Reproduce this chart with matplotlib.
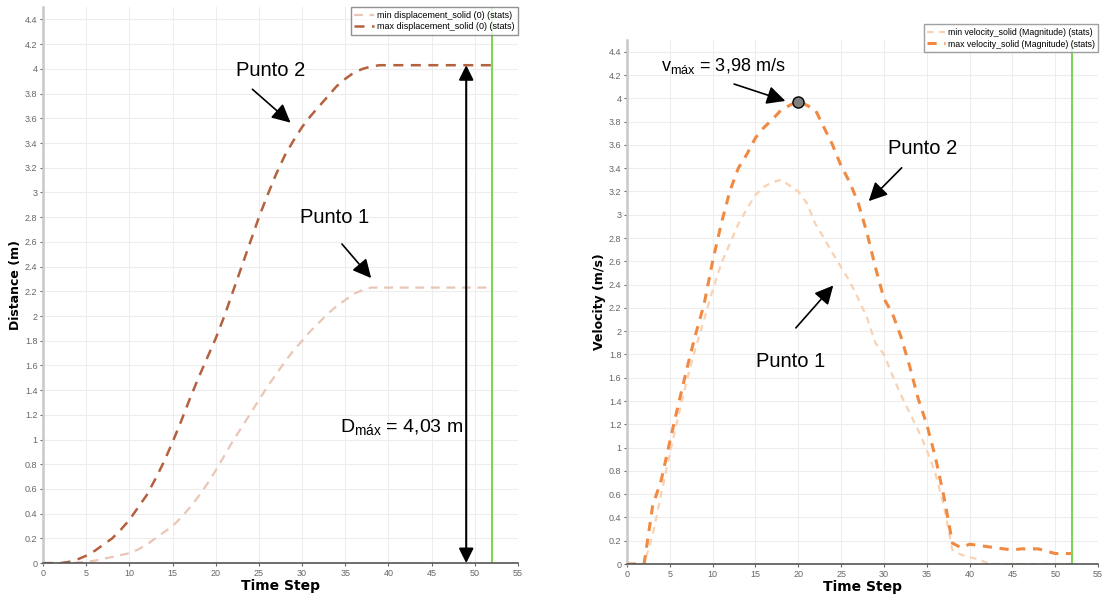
import numpy as np
import matplotlib.pyplot as plt

plt.rcParams['font.family'] = ['Liberation Sans', 'DejaVu Sans']
plt.rcParams['mathtext.fontset'] = 'custom'
plt.rcParams['mathtext.rm'] = 'Liberation Sans'
plt.rcParams['mathtext.it'] = 'Liberation Sans:italic'
plt.rcParams['mathtext.bf'] = 'Liberation Sans:bold'

# time steps 0..52
steps = list(range(53))

disp_min = [0, 0, 0, 0, 0.005, 0.01, 0.02, 0.035, 0.05, 0.065, 0.08, 0.11, 0.15, 0.2,
            0.25, 0.3, 0.37, 0.45, 0.54, 0.64, 0.75, 0.87, 0.99, 1.1, 1.21, 1.32, 1.43,
            1.53, 1.63, 1.72, 1.8, 1.88, 1.95, 2.02, 2.08, 2.13, 2.18, 2.21, 2.23] + [2.23] * 14
disp_max = [0, 0, 0, 0.01, 0.03, 0.06, 0.1, 0.15, 0.2, 0.27, 0.35, 0.45, 0.55, 0.68,
            0.82, 0.98, 1.15, 1.33, 1.5, 1.66, 1.82, 2.0, 2.2, 2.4, 2.6, 2.8, 2.98, 3.15,
            3.3, 3.42, 3.53, 3.62, 3.7, 3.78, 3.86, 3.92, 3.97, 4.0, 4.02] + [4.03] * 14

vel_min = [0, 0, 0, 0.25, 0.6, 0.95, 1.27, 1.58, 1.85, 2.1, 2.35, 2.58, 2.75, 2.92,
           3.05, 3.17, 3.24, 3.28, 3.3, 3.25, 3.2, 3.1, 2.92, 2.8, 2.67, 2.55, 2.43,
           2.28, 2.12, 1.9, 1.8, 1.62, 1.45, 1.3, 1.15, 0.98, 0.78, 0.5, 0.12, 0.08,
           0.06, 0.04, 0.01] + [0] * 10
vel_max = [0, 0, 0, 0.5, 0.72, 1.05, 1.37, 1.68, 1.97, 2.23, 2.6, 2.92, 3.2, 3.4,
           3.52, 3.66, 3.75, 3.82, 3.9, 3.94, 3.98, 3.94, 3.9, 3.75, 3.6, 3.42, 3.28,
           3.1, 2.85, 2.55, 2.28, 2.15, 1.95, 1.7, 1.42, 1.2, 0.92, 0.58, 0.18, 0.14,
           0.17, 0.16, 0.15, 0.14, 0.13, 0.12, 0.13, 0.13, 0.13, 0.11, 0.09, 0.09, 0.09]

t_end = 52
d_peak = 4.03
v_peak_t, v_peak = 20, 3.97

fig = plt.figure(figsize=(11.15, 5.94), dpi=100)
ax1 = fig.add_axes([0.0386, 0.052, 0.426, 0.936])
ax2 = fig.add_axes([0.5623, 0.0505, 0.4225, 0.882])


def style_axes(ax, ylabel):
    ax.set_xlim(0, 55)
    ax.set_ylim(0, 4.5)
    ax.set_xticks(np.arange(0, 56, 5))
    ax.set_yticks(np.round(np.arange(0, 4.41, 0.2), 1))
    ax.set_yticklabels(['%g' % v for v in np.round(np.arange(0, 4.41, 0.2), 1)])
    ax.grid(True, color='#ededed', lw=0.8)
    ax.set_axisbelow(True)
    for s in ['top', 'right']:
        ax.spines[s].set_visible(False)
    ax.spines['left'].set_color('#c8c8c8')
    ax.spines['left'].set_linewidth(1.8)
    ax.spines['bottom'].set_color('#555555')
    ax.spines['bottom'].set_linewidth(1.2)
    ax.tick_params(labelsize=6.5, colors='#666666', length=2.5, pad=1.5)
    ax.set_xlabel('Time Step', fontsize=10, fontweight='bold', family='DejaVu Sans', labelpad=1)
    ax.set_ylabel(ylabel, fontsize=9, fontweight='bold', family='DejaVu Sans', labelpad=2)


arrow_kw = dict(arrowstyle='-|>', color='black', lw=1.2, mutation_scale=28)

# ---- displacement
ax1.plot(steps, disp_min, color='#e9c6b7', lw=1.6, dashes=(4, 3),
         label='min displacement_solid (0) (stats)')
ax1.plot(steps, disp_max, color='#b3613f', lw=1.8, dashes=(4, 3),
         label='max displacement_solid (0) (stats)')
ax1.axvline(t_end, color='#7dd657', lw=1.5)
style_axes(ax1, 'Distance (m)')
leg = ax1.legend(loc='upper right', fontsize=6.5, frameon=True, fancybox=False,
                 borderaxespad=0, handlelength=2.2, handletextpad=0.3,
                 borderpad=0.4, labelspacing=0.3)
leg.get_frame().set_edgecolor('#777777')
leg.get_frame().set_linewidth(1.0)

ax1.annotate('', xy=(49.0, 0), xytext=(49.0, d_peak),
             arrowprops=dict(arrowstyle='<|-|>', color='black', lw=1.5, mutation_scale=22,
                             shrinkA=0, shrinkB=0))
ax1.text(48.7, 1.1, r'D$_{\mathrm{máx}}$ = 4,03 m', fontsize=14, ha='right', va='center')
ax1.text(22.3, 3.99, 'Punto 2', fontsize=14.5, ha='left', va='center')
ax1.annotate('', xy=(28.9, 3.55), xytext=(24.0, 3.85), arrowprops=arrow_kw)
ax1.text(29.7, 2.80, 'Punto 1', fontsize=14.5, ha='left', va='center')
ax1.annotate('', xy=(38.2, 2.29), xytext=(34.4, 2.60), arrowprops=arrow_kw)

# ---- velocity
ax2.plot(steps, vel_min, color='#f8d2b3', lw=1.6, dashes=(3, 2.5),
         label='min velocity_solid (Magnitude) (stats)')
ax2.plot(steps, vel_max, color='#f08a42', lw=2.2, dashes=(3, 2.5),
         label='max velocity_solid (Magnitude) (stats)')
ax2.axvline(t_end, color='#7dd657', lw=1.5)
style_axes(ax2, 'Velocity (m/s)')
leg = ax2.legend(loc='upper right', bbox_to_anchor=(1.0, 1.03), fontsize=6.3, frameon=True,
                 fancybox=False, borderaxespad=0, handlelength=2.0, handletextpad=0.3,
                 borderpad=0.4, labelspacing=0.3)
leg.get_frame().set_edgecolor('#888888')
leg.get_frame().set_linewidth(1.0)

ax2.plot([v_peak_t], [v_peak], 'o', ms=8, mfc='#808080', mec='black', mew=1, zorder=5)
ax2.text(4.0, 4.28, r'v$_{\mathrm{máx}}$ = 3,98 m/s', fontsize=13, ha='left', va='center')
ax2.annotate('', xy=(18.8, 3.97), xytext=(12.2, 4.13), arrowprops=arrow_kw)
ax2.text(30.5, 3.57, 'Punto 2', fontsize=14.5, ha='left', va='center')
ax2.annotate('', xy=(28.0, 3.10), xytext=(32.3, 3.42), arrowprops=arrow_kw)
ax2.text(15.05, 1.74, 'Punto 1', fontsize=14.5, ha='left', va='center')
ax2.annotate('', xy=(24.3, 2.41), xytext=(19.5, 2.01), arrowprops=arrow_kw)

fig.savefig('out.png', dpi=100, facecolor='white')
